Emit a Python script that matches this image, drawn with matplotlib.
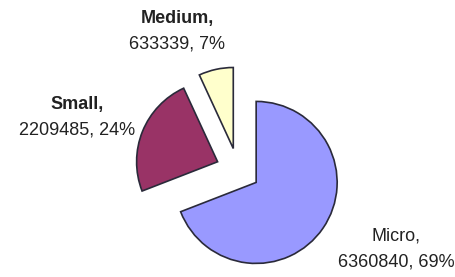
import matplotlib.pyplot as plt

# Enterprise counts by size
names = ['Micro', 'Small', 'Medium']
counts = [6360840, 2209485, 633339]
colors = ['#9999FF', '#993366', '#FFFFCC']

total = sum(counts)
pcts = [round(100 * c / total) for c in counts]

fig = plt.figure(figsize=(4.56, 2.77), dpi=100)
ax = fig.add_axes([0, 0, 1, 1])

# pie in pixel-like units so it sits where the original does
# (explode is in data units here, not a fraction of the radius)
ax.pie(counts, colors=colors, startangle=90, counterclock=False,
       explode=[22, 22, 22], center=(238, 107), radius=81,
       wedgeprops=dict(edgecolor='#2a2a3a', linewidth=1.2))
ax.set_xlim(0, 456)
ax.set_ylim(0, 277)
ax.set_aspect('equal')
ax.axis('off')

# label spots (x, y) and weight of the name line
spots = {'Micro': (396, 28, 'normal'),
         'Small': (77, 160, 'bold'),
         'Medium': (177, 246, 'bold')}

for n, c, p in zip(names, counts, pcts):
    x, y, w = spots[n]
    ax.text(x, y + 13, n + ',', ha='center', va='center', fontsize=13,
            family='Liberation Sans', fontweight=w, color='#222222')
    ax.text(x, y - 13, '%d, %d%%' % (c, p), ha='center', va='center',
            fontsize=13, family='Liberation Sans', color='#222222')

fig.savefig('out.png', dpi=100)
